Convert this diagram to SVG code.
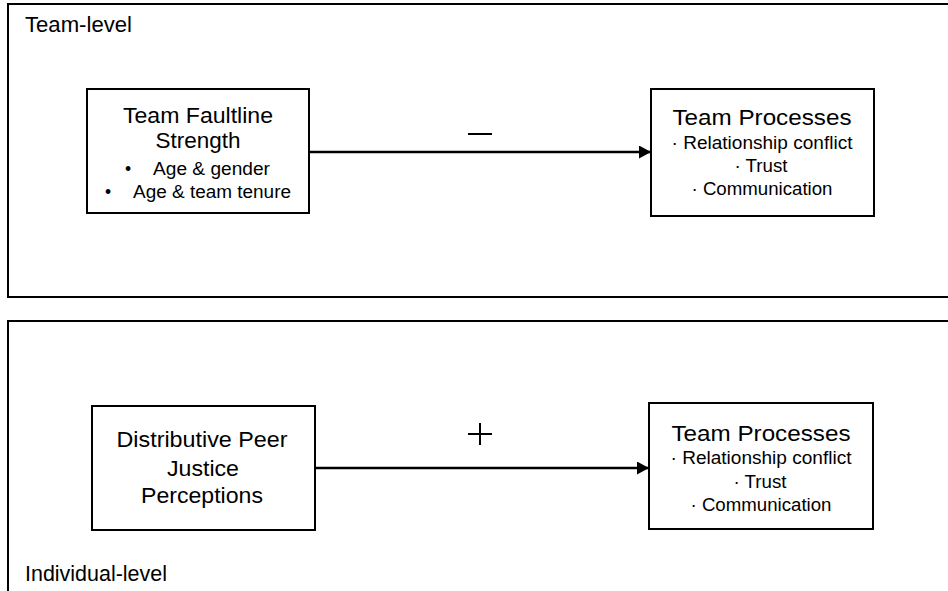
<svg xmlns="http://www.w3.org/2000/svg" width="948" height="591" viewBox="0 0 948 591">
  <style>
    .panel { fill: none; stroke: #000; stroke-width: 2; }
    .box { fill: #fff; stroke: #000; stroke-width: 2; }
    .edge { fill: none; stroke: #000; stroke-width: 2.5; }
    text { font-family: "Liberation Sans", Arial, sans-serif; fill: #000; }
    .title { font-size: 22px; text-anchor: middle; }
    .item { font-size: 17.5px; text-anchor: middle; }
    .start { text-anchor: start; }
    .level { font-size: 21.5px; }
    .sign { stroke: #000; stroke-width: 2; fill: none; }
  </style>
  <defs>
    <marker id="arrow" viewBox="0 0 12 13" refX="12" refY="6.5" markerWidth="12" markerHeight="13" markerUnits="userSpaceOnUse" orient="auto">
      <path d="M0,0 L12,6.5 L0,13 Z" fill="#000"/>
    </marker>
  </defs>
  <rect width="948" height="591" fill="#fff"/>

  <!-- level panels (open on the right; lower panel open at the bottom) -->
  <g id="panel-team">
    <path class="panel" d="M950,4 H8 V297 H950"/>
    <text class="level" x="25" y="32" textLength="107" lengthAdjust="spacingAndGlyphs">Team-level</text>
  </g>
  <g id="panel-individual">
    <path class="panel" d="M950,321 H8 V593"/>
    <text class="level" x="25" y="581" textLength="142" lengthAdjust="spacingAndGlyphs">Individual-level</text>
  </g>

  <!-- connectors -->
  <g id="connectors">
    <line class="edge" x1="309" y1="152" x2="651" y2="152" marker-end="url(#arrow)"/>
    <line class="sign" x1="468" y1="134" x2="492" y2="134"/>
    <line class="edge" x1="315" y1="468" x2="649" y2="468" marker-end="url(#arrow)"/>
    <line class="sign" x1="468" y1="434" x2="492" y2="434"/>
    <line class="sign" x1="480" y1="423" x2="480" y2="445"/>
  </g>

  <g id="faultline">
    <rect class="box" x="87" y="89" width="222" height="124"/>
    <text class="title" x="198" y="123" textLength="150" lengthAdjust="spacingAndGlyphs">Team Faultline</text>
    <text class="title" x="198" y="148" textLength="85" lengthAdjust="spacingAndGlyphs">Strength</text>
    <text class="item" x="128" y="175">•</text>
    <text class="item start" x="153" y="175" textLength="117" lengthAdjust="spacingAndGlyphs">Age &amp; gender</text>
    <text class="item" x="108" y="198">•</text>
    <text class="item start" x="133" y="198" textLength="158" lengthAdjust="spacingAndGlyphs">Age &amp; team tenure</text>
  </g>

  <g id="processes-team">
    <rect class="box" x="651" y="89" width="223" height="127"/>
    <text class="title" x="762" y="125" textLength="179" lengthAdjust="spacingAndGlyphs">Team Processes</text>
    <text class="item" x="762" y="149" textLength="181" lengthAdjust="spacingAndGlyphs">· Relationship conflict</text>
    <text class="item" x="761" y="172" textLength="53" lengthAdjust="spacingAndGlyphs">· Trust</text>
    <text class="item" x="762" y="195" textLength="141" lengthAdjust="spacingAndGlyphs">· Communication</text>
  </g>

  <g id="peer-justice">
    <rect class="box" x="92" y="406" width="223" height="124"/>
    <text class="title" x="202" y="447" textLength="171" lengthAdjust="spacingAndGlyphs">Distributive Peer</text>
    <text class="title" x="203" y="476" textLength="72" lengthAdjust="spacingAndGlyphs">Justice</text>
    <text class="title" x="202" y="503" textLength="122" lengthAdjust="spacingAndGlyphs">Perceptions</text>
  </g>

  <g id="processes-individual">
    <rect class="box" x="649" y="403" width="224" height="126"/>
    <text class="title" x="761" y="441" textLength="179" lengthAdjust="spacingAndGlyphs">Team Processes</text>
    <text class="item" x="761" y="464" textLength="181" lengthAdjust="spacingAndGlyphs">· Relationship conflict</text>
    <text class="item" x="760" y="488" textLength="53" lengthAdjust="spacingAndGlyphs">· Trust</text>
    <text class="item" x="761" y="511" textLength="141" lengthAdjust="spacingAndGlyphs">· Communication</text>
  </g>
</svg>
